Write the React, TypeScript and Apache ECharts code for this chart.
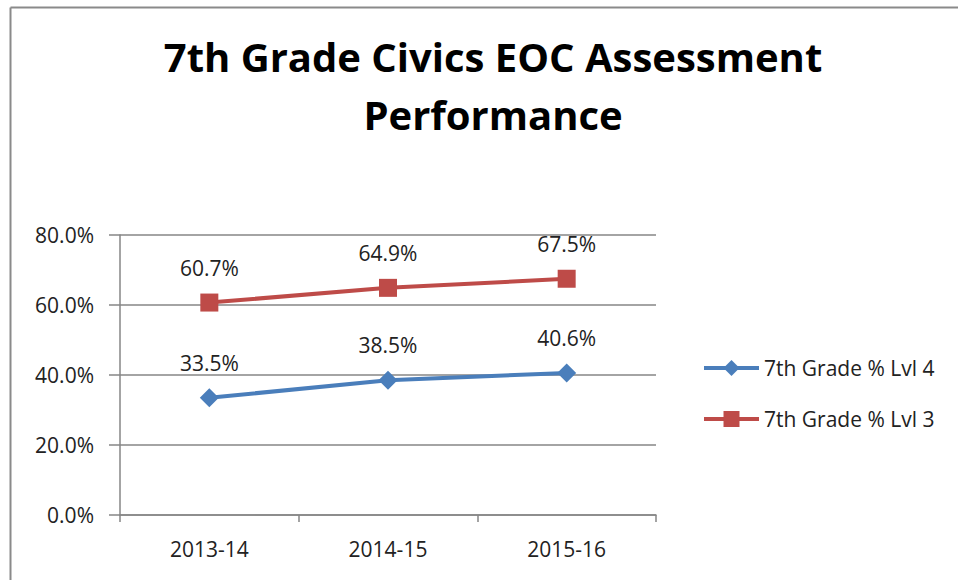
import React, { useEffect, useRef } from "react";
import * as echarts from "echarts";

const categories = ["2013-14", "2014-15", "2015-16"];
const lvl4 = [33.5, 38.5, 40.6];
const lvl3 = [60.7, 64.9, 67.5];
const seriesNames = ["7th Grade % Lvl 4", "7th Grade % Lvl 3"];

export default function App() {
  const ref = useRef<HTMLDivElement>(null);
  useEffect(() => {
    const chart = echarts.init(ref.current!, null, { renderer: "svg" });
    const font = "'Open Sans', 'Noto Sans', sans-serif";
    const fs = 21;
    chart.setOption({
      animation: false,
      textStyle: { fontFamily: font },
      title: {
        text: "7th Grade Civics EOC Assessment\nPerformance",
        left: 488,
        top: 22,
        textAlign: "center",
        textStyle: { fontSize: 40, fontWeight: "bold", color: "#000", lineHeight: 58, fontFamily: font },
      },
      graphic: [
        { type: "line", shape: { x1: 10.5, y1: 7.5, x2: 958, y2: 7.5 }, style: { stroke: "#8a8a8a", lineWidth: 2 } },
        { type: "line", shape: { x1: 10.5, y1: 7.5, x2: 10.5, y2: 580 }, style: { stroke: "#8a8a8a", lineWidth: 2 } },
      ],
      legend: {
        orient: "vertical",
        left: 697,
        top: 351,
        itemWidth: 55,
        itemHeight: 20,
        itemGap: 27,
        lineStyle: { width: 4 },
        textStyle: { fontSize: fs, lineHeight: 24, color: "#222", fontFamily: font },
        data: seriesNames,
      },
      grid: { left: 120, right: 302, top: 235, bottom: 65 },
      xAxis: {
        type: "category",
        data: categories,
        boundaryGap: true,
        axisLine: { lineStyle: { color: "#868686", width: 1.5 } },
        axisTick: { show: true, length: 7, lineStyle: { color: "#868686", width: 1.5 } },
        axisLabel: { fontSize: fs, color: "#222", margin: 23, fontFamily: font },
      },
      yAxis: {
        type: "value",
        min: 0,
        max: 80,
        interval: 20,
        axisLine: { show: true, lineStyle: { color: "#868686", width: 1.5 } },
        axisTick: { show: true, length: 11, lineStyle: { color: "#868686", width: 1.5 } },
        axisLabel: { fontSize: fs, color: "#222", margin: 26, formatter: (v: number) => v.toFixed(1) + "%", fontFamily: font },
        splitLine: { lineStyle: { color: "#868686", width: 1.5 } },
      },
      series: [
        {
          name: seriesNames[0],
          type: "line",
          data: lvl4,
          symbol: "diamond",
          symbolSize: 19,
          lineStyle: { color: "#4A7EBB", width: 4 },
          itemStyle: { color: "#4A7EBB" },
          label: { show: true, position: "top", distance: 15, fontSize: fs, color: "#222", formatter: (p: any) => p.value.toFixed(1) + "%", fontFamily: font },
        },
        {
          name: seriesNames[1],
          type: "line",
          data: lvl3,
          symbol: "rect",
          symbolSize: 18,
          lineStyle: { color: "#BE4B48", width: 4 },
          itemStyle: { color: "#BE4B48" },
          label: { show: true, position: "top", distance: 15, fontSize: fs, color: "#222", formatter: (p: any) => p.value.toFixed(1) + "%", fontFamily: font },
        },
      ],
    });
    return () => chart.dispose();
  }, []);
  return <div ref={ref} style={{ width: 958, height: 580, position: "fixed", left: 0, top: 0, background: "#fff" }} />;
}
